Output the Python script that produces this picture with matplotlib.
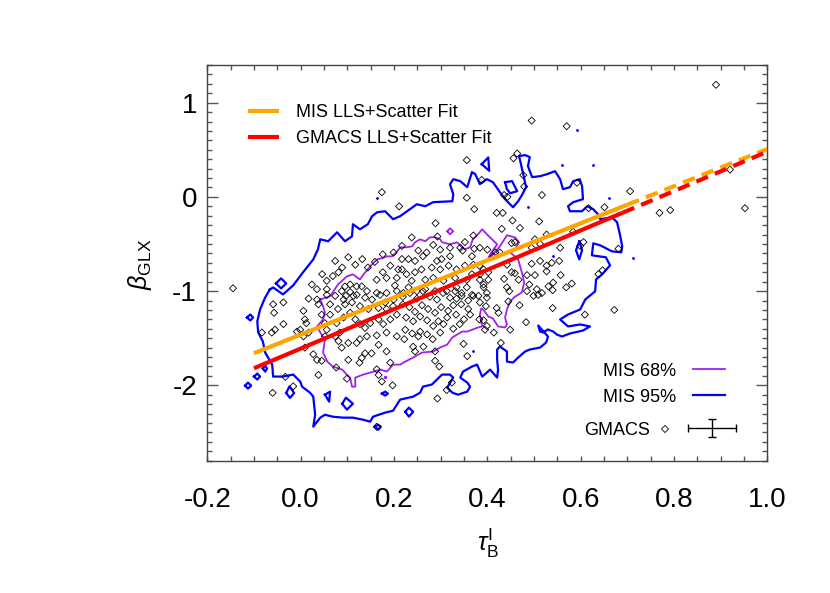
import matplotlib
matplotlib.use("Agg")
import matplotlib.pyplot as plt
import numpy as np
from matplotlib.ticker import MultipleLocator

plt.rcParams["font.family"] = ["Liberation Sans", "DejaVu Sans"]
plt.rcParams["mathtext.fontset"] = "custom"
plt.rcParams["mathtext.rm"] = "Liberation Sans"
plt.rcParams["mathtext.it"] = "Liberation Sans:italic"
plt.rcParams["axes.unicode_minus"] = False

# ---- fits (tau_B^I vs beta_GLX) ----
mis_slope, mis_icpt = 1.97, -1.462
gmacs_slope, gmacs_icpt = 2.09, -1.61
mis_solid = [-0.1, 0.70]
gmacs_solid = [-0.1, 0.69]
fit_end = 1.0

# ---- MIS 95% contour (main loop) ----
mis95_x = [-0.066, -0.059, -0.038, -0.016, 0.005, 0.027, 0.037, 0.042, 0.059, 0.078,
           0.095, 0.110, 0.112, 0.127, 0.144, 0.153, 0.164, 0.181, 0.198, 0.213,
           0.249, 0.267, 0.284, 0.325, 0.327, 0.320, 0.327, 0.342, 0.357, 0.367,
           0.374, 0.384, 0.399, 0.412, 0.427, 0.438, 0.455, 0.466, 0.474, 0.483,
           0.477, 0.472, 0.468, 0.481, 0.491, 0.487, 0.496, 0.513, 0.528, 0.545,
           0.556, 0.562, 0.577, 0.584, 0.598, 0.603, 0.605, 0.584, 0.573, 0.577,
           0.603, 0.614, 0.627, 0.637, 0.642, 0.667, 0.678, 0.684, 0.689, 0.687,
           0.667, 0.642, 0.627, 0.624, 0.654, 0.663, 0.646, 0.633, 0.631, 0.610,
           0.599, 0.573, 0.556, 0.573, 0.599, 0.620, 0.605, 0.577, 0.560, 0.549,
           0.541, 0.530, 0.519, 0.513, 0.509, 0.530, 0.526, 0.513, 0.491, 0.481,
           0.466, 0.455, 0.442, 0.442, 0.427, 0.421, 0.421, 0.423, 0.421, 0.406,
           0.389, 0.378, 0.367, 0.348, 0.342, 0.357, 0.363, 0.357, 0.337, 0.325,
           0.314, 0.327, 0.320, 0.303, 0.292, 0.281, 0.262, 0.256, 0.241, 0.213,
           0.198, 0.181, 0.155, 0.149, 0.134, 0.112, 0.091, 0.069, 0.052, 0.042,
           0.027, 0.031, 0.027, 0.020, 0.003, -0.001, -0.016, -0.038, -0.059, -0.061,
           -0.076, -0.081, -0.091, -0.093, -0.087, -0.076]
mis95_y = [-0.982, -0.961, -1.035, -0.939, -0.801, -0.663, -0.556, -0.450, -0.471, -0.376,
           -0.471, -0.418, -0.290, -0.344, -0.290, -0.205, -0.163, -0.152, -0.237, -0.205,
           -0.078, -0.099, -0.056, -0.046, 0.029, 0.135, 0.188, 0.167, 0.103, 0.263,
           0.242, 0.135, 0.188, 0.156, 0.050, -0.024, -0.110, -0.046, 0.018, 0.103,
           0.241, 0.348, 0.433, 0.444, 0.422, 0.327, 0.210, 0.220, 0.241, 0.273,
           0.188, 0.082, 0.103, 0.167, 0.188, 0.114, -0.024, -0.056, -0.099, -0.152,
           -0.152, -0.099, -0.131, -0.184, -0.237, -0.216, -0.269, -0.397, -0.524, -0.588,
           -0.578, -0.514, -0.493, -0.620, -0.641, -0.727, -0.822, -0.876, -1.003, -1.088,
           -1.195, -1.248, -1.301, -1.375, -1.354, -1.375, -1.418, -1.450, -1.482, -1.461,
           -1.429, -1.407, -1.439, -1.429, -1.365, -1.482, -1.546, -1.599, -1.620, -1.641,
           -1.705, -1.758, -1.748, -1.641, -1.588, -1.620, -1.726, -1.833, -1.918, -1.833,
           -1.907, -1.780, -1.801, -1.854, -1.918, -1.971, -2.014, -2.067, -2.099, -2.078,
           -2.024, -1.918, -1.886, -1.886, -1.939, -1.992, -2.014, -2.078, -2.120, -2.152,
           -2.269, -2.290, -2.333, -2.386, -2.365, -2.343, -2.343, -2.333, -2.312, -2.343,
           -2.439, -2.312, -2.120, -2.078, -2.014, -1.960, -1.886, -1.907, -1.907, -1.780,
           -1.652, -1.535, -1.439, -1.322, -1.195, -1.067]

# ---- MIS 95% small islands ----
mis95_islands = [
    [(-0.053, -0.918), (-0.042, -0.865), (-0.031, -0.918), (-0.042, -0.971)],
    [(-0.115, -1.280), (-0.108, -1.248), (-0.102, -1.280), (-0.108, -1.312)],
    [(-0.119, -2.003), (-0.113, -1.971), (-0.106, -2.003), (-0.113, -2.035)],
    [(-0.100, -1.907), (-0.093, -1.875), (-0.087, -1.907), (-0.093, -1.939)],
    [(-0.081, -1.822), (-0.076, -1.790), (-0.072, -1.822), (-0.076, -1.854)],
    [(-0.031, -2.081), (-0.024, -2.011), (-0.014, -2.081), (-0.023, -2.134)],
    [(0.052, -2.099), (0.063, -2.067), (0.061, -2.173)],
    [(0.089, -2.195), (0.097, -2.131), (0.112, -2.195), (0.099, -2.258)],
    [(0.174, -2.088), (0.181, -2.067), (0.187, -2.088), (0.181, -2.109)],
    [(0.224, -2.280), (0.232, -2.237), (0.241, -2.280), (0.232, -2.333)],
    [(0.159, -2.439), (0.166, -2.418), (0.172, -2.439), (0.166, -2.471)],
    [(0.388, 0.348), (0.402, 0.419), (0.404, 0.277)],
    [(0.438, 0.156), (0.453, 0.167), (0.464, 0.061), (0.449, 0.039), (0.442, 0.082)],
    [(0.597, -0.471), (0.603, -0.567), (0.597, -0.663), (0.590, -0.567)],
]
mis95_dots_x = [0.164, 0.592, 0.560, 0.627, 0.661, 0.713, 0.487, 0.370, 0.541]
mis95_dots_y = [-0.014, 0.709, 0.337, 0.337, -0.017, -0.645, -0.110, -1.638, -0.628]

# ---- MIS 68% contour ----
mis68_x = [0.042, 0.063, 0.080, 0.099, 0.112, 0.127, 0.138, 0.153, 0.164, 0.174,
           0.185, 0.196, 0.207, 0.213, 0.228, 0.239, 0.245, 0.256, 0.267, 0.277,
           0.288, 0.299, 0.303, 0.320, 0.335, 0.346, 0.352, 0.363, 0.369, 0.380,
           0.389, 0.399, 0.410, 0.421, 0.406, 0.399, 0.412, 0.427, 0.442, 0.459,
           0.468, 0.459, 0.449, 0.466, 0.474, 0.479, 0.474, 0.457, 0.449, 0.442,
           0.438, 0.442, 0.438, 0.423, 0.412, 0.402, 0.391, 0.387, 0.384, 0.389,
           0.380, 0.357, 0.346, 0.325, 0.314, 0.299, 0.284, 0.260, 0.241, 0.224,
           0.213, 0.198, 0.185, 0.170, 0.149, 0.134, 0.117, 0.117, 0.110, 0.106,
           0.099, 0.089, 0.069, 0.057, 0.048, 0.052, 0.042, 0.035, 0.048, 0.052,
           0.048]
mis68_y = [-1.088, -1.056, -0.929, -0.844, -0.822, -0.876, -0.801, -0.716, -0.663, -0.652,
           -0.631, -0.631, -0.578, -0.535, -0.535, -0.524, -0.482, -0.450, -0.471, -0.429,
           -0.429, -0.450, -0.482, -0.503, -0.482, -0.535, -0.556, -0.535, -0.450, -0.397,
           -0.344, -0.397, -0.450, -0.503, -0.610, -0.684, -0.610, -0.524, -0.407, -0.429,
           -0.482, -0.556, -0.588, -0.663, -0.801, -0.907, -1.014, -1.067, -1.110, -1.195,
           -1.280, -1.354, -1.386, -1.375, -1.290, -1.269, -1.195, -1.184, -1.248, -1.375,
           -1.386, -1.429, -1.429, -1.492, -1.567, -1.599, -1.641, -1.652, -1.705, -1.748,
           -1.780, -1.780, -1.854, -1.833, -1.865, -1.886, -1.918, -2.014, -2.014, -1.918,
           -1.886, -1.833, -1.801, -1.748, -1.652, -1.514, -1.439, -1.375, -1.301, -1.226,
           -1.163]
mis68_islands = [
    [(0.314, -0.365), (0.320, -0.333), (0.327, -0.365), (0.320, -0.397)],
]
mis68_dots_x = [0.181]
mis68_dots_y = [-1.907]

# ---- GMACS clusters ----
gmacs_outer = [
    (-0.145, -0.97), (0.89, 1.19), (0.952, -0.12), (0.92, 0.29), (0.706, 0.06), (0.769, -0.17),
    (0.792, -0.14), (0.672, -1.20), (0.609, -1.25), (0.495, 0.81), (0.57, 0.75), (0.464, 0.46),
    (0.456, 0.41), (0.388, 0.18), (0.477, 0.23), (0.479, 0.11), (0.436, 0.02), (0.443, 0.0),
    (0.517, 0.02), (0.592, 0.15), (0.617, -0.12), (0.651, -0.11), (0.42, -0.17), (0.433, -0.17),
    (0.454, -0.25), (0.511, -0.26), (0.431, -0.34), (0.47, -0.33), (0.452, -0.49), (0.459, -0.48),
    (0.513, -0.50), (0.556, -0.54), (0.417, -0.59), (0.495, -0.54), (0.356, 0.39), (0.174, 0.05),
    (0.211, -0.10), (0.289, -0.28), (0.356, -0.01), (0.372, -0.13), (0.238, -0.43), (0.293, -0.42),
    (0.37, -0.41), (0.176, -0.61), (0.199, -0.59), (0.217, -0.52), (0.252, -0.57), (0.284, -0.51),
    (0.299, -0.56), (0.352, -0.48), (0.372, -0.55), (0.502, -0.45), (0.527, -0.40),
]
gmacs_right = [
    (0.584, -0.37), (0.606, -0.48), (0.599, -0.52), (0.681, -0.55), (0.554, -0.68), (0.538, -0.70),
    (0.527, -0.73), (0.647, -0.78), (0.638, -0.82), (0.557, -0.83), (0.541, -0.91), (0.581, -0.92),
    (0.569, -0.96), (0.54, -0.99), (0.517, -1.02), (0.54, -1.18), (0.49, -0.93), (0.485, -0.83),
    (0.502, -0.83), (0.495, -0.71), (0.513, -0.68), (0.436, -0.87), (0.459, -0.81), (0.452, -0.80),
    (0.447, -1.0), (0.445, -1.11), (0.469, -1.15), (0.499, -1.05), (0.509, -1.04), (0.483, -1.33),
    (0.449, -1.41), (0.429, -1.55), (0.42, -1.18), (0.414, -1.44), (0.399, -1.37), (0.395, -1.41),
    (0.392, -1.31), (0.424, -1.23), (0.399, -1.02), (0.399, -1.07), (0.392, -0.77), (0.402, -0.80),
    (0.384, -0.88), (0.397, -1.16),
]
gmacs_lower = [
    (0.384, -1.12), (0.383, -1.30), (0.37, -1.05), (0.344, -1.14), (0.333, -1.25), (0.35, -1.30),
    (0.306, -1.35), (0.295, -1.32), (0.327, -1.40), (0.349, -1.56), (0.283, -1.51), (0.263, -1.59),
    (0.241, -1.59), (0.245, -1.64), (0.222, -1.51), (0.252, -1.48), (0.288, -1.64), (0.288, -1.74),
    (0.297, -1.80), (0.357, -1.69), (0.293, -2.14), (0.334, -1.08), (0.345, -1.02),
    (-0.059, -1.14), (-0.037, -1.12), (-0.057, -1.23), (-0.037, -1.35), (-0.083, -1.44),
    (-0.062, -1.44), (-0.055, -1.41), (0.006, -1.21), (0.017, -1.08), (0.038, -1.14), (0.035, -1.09),
    (0.045, -1.25), (0.063, -1.25), (0.009, -1.30), (0.012, -1.34), (-0.008, -1.43), (-0.001, -1.41),
    (0.006, -1.48), (0.017, -1.44), (0.009, -1.60), (0.027, -1.67), (0.035, -1.73), (0.045, -1.74),
    (0.038, -1.89), (0.076, -1.81), (0.099, -1.93), (0.102, -1.73), (0.126, -1.76), (0.131, -1.71),
    (0.138, -1.66), (0.152, -1.66), (0.167, -1.57), (0.184, -1.64), (0.192, -1.76), (0.163, -1.83),
    (0.167, -1.89), (0.197, -2.0), (-0.06, -2.08), (-0.033, -1.91), (0.163, -2.44), (-0.016, -2.01),
    (0.313, -2.05), (0.324, -1.97), (0.174, -1.96),
]
gmacs_core = [
    (0.081, -1.53), (0.102, -1.55), (0.088, -1.60), (0.12, -1.55), (0.127, -1.51), (0.142, -1.48),
    (0.163, -1.47), (0.184, -1.44), (0.206, -1.48), (0.052, -1.48), (0.074, -1.48), (0.056, -1.41),
    (0.084, -1.44), (0.052, -1.34), (0.077, -1.34), (0.092, -1.28), (0.106, -1.23), (0.117, -1.30),
    (0.127, -1.35), (0.138, -1.39), (0.149, -1.34), (0.167, -1.30), (0.177, -1.35), (0.192, -1.30),
    (0.206, -1.25), (0.184, -1.19), (0.167, -1.18), (0.145, -1.19), (0.127, -1.16), (0.11, -1.12),
    (0.092, -1.09), (0.074, -1.05), (0.056, -1.04), (0.088, -1.0), (0.12, -1.04), (0.138, -1.07),
    (0.163, -1.02), (0.184, -1.02), (0.199, -1.09),
    (0.081, -0.80), (0.056, -0.89), (0.056, -0.98), (0.095, -0.95), (0.106, -0.93), (0.12, -0.95),
    (0.131, -0.95), (0.106, -1.01), (0.113, -1.05), (0.163, -0.88), (0.176, -0.80), (0.184, -0.86),
    (0.206, -0.86), (0.202, -0.94), (0.17, -1.04), (0.206, -1.0),
    (0.217, -0.66), (0.231, -0.66), (0.245, -0.68), (0.262, -0.63), (0.27, -0.59), (0.32, -0.54),
    (0.342, -0.54), (0.347, -0.57), (0.367, -0.63), (0.384, -0.54), (0.40, -0.56), (0.413, -0.63),
    (0.427, -0.59), (0.527, -0.79), (0.442, -0.72), (0.467, -0.88), (0.402, -0.88), (0.392, -0.96),
    (0.442, -0.96), (0.485, -1.0), (0.506, -0.98), (0.531, -0.95), (0.32, -0.63), (0.302, -0.66),
    (0.292, -0.68), (0.281, -0.75), (0.299, -0.77), (0.317, -0.73), (0.334, -0.77), (0.352, -0.73),
    (0.37, -0.72), (0.383, -0.73), (0.245, -0.80), (0.259, -0.77), (0.227, -0.82), (0.217, -0.77),
    (0.238, -0.89), (0.267, -0.88), (0.284, -0.86), (0.306, -0.89), (0.331, -0.86), (0.356, -0.88),
    (0.367, -0.82), (0.384, -0.82), (0.392, -0.93), (0.356, -0.96), (0.334, -0.96), (0.313, -1.0),
    (0.288, -1.0), (0.267, -0.98), (0.249, -1.0), (0.231, -0.96), (0.22, -1.02), (0.345, -1.05),
    (0.367, -1.04), (0.381, -1.05),
]
gmacs_dense = [
    (0.219, -1.06), (0.234, -1.02), (0.249, -1.08), (0.262, -1.0), (0.277, -1.06), (0.292, -1.09),
    (0.305, -1.02), (0.32, -1.07), (0.331, -1.0), (0.359, -1.10), (0.219, -1.14), (0.233, -1.17),
    (0.245, -1.22), (0.26, -1.15), (0.273, -1.19), (0.288, -1.23), (0.301, -1.17), (0.316, -1.21),
    (0.327, -1.15), (0.359, -1.19), (0.226, -1.28), (0.241, -1.32), (0.256, -1.27), (0.271, -1.31),
    (0.284, -1.37), (0.314, -1.28), (0.224, -1.41), (0.239, -1.45), (0.256, -1.43), (0.271, -1.46),
    (0.299, -1.44), (0.363, -1.25), (0.341, -1.35),
    (0.074, -0.68), (0.089, -0.75), (0.102, -0.64), (0.117, -0.72), (0.132, -0.66), (0.144, -0.75),
    (0.159, -0.69), (0.192, -0.73), (0.209, -0.77), (0.069, -0.84), (0.142, -1.0), (0.153, -1.09),
    (0.181, -1.12), (0.198, -1.16), (0.095, -1.14), (0.08, -1.19), (0.063, -1.14), (0.035, -0.98),
    (0.024, -0.93), (0.046, -0.82), (0.097, -1.05),
]

# representative GMACS error bar (legend)
err_x, err_y = 0.882, -2.457
err_dx, err_dy = 0.051, 0.096

fig = plt.figure(figsize=(8.3, 5.93), dpi=100)
ax = fig.add_axes([0.2498, 0.2231, 0.6747, 0.6673])

# contours
blue = "#0000FF"
purple = "#A020F0"
ax.plot(mis95_x + mis95_x[:1], mis95_y + mis95_y[:1], color=blue, lw=1.6, zorder=2)
for isl in mis95_islands:
    xs, ys = zip(*(isl + isl[:1]))
    ax.plot(xs, ys, color=blue, lw=1.6, zorder=2)
ax.plot(mis95_dots_x, mis95_dots_y, ".", color=blue, ms=2, zorder=2)
ax.plot(mis68_x + mis68_x[:1], mis68_y + mis68_y[:1], color=purple, lw=1.3, zorder=2)
for isl in mis68_islands:
    xs, ys = zip(*(isl + isl[:1]))
    ax.plot(xs, ys, color=purple, lw=1.3, zorder=2)
ax.plot(mis68_dots_x, mis68_dots_y, ".", color=purple, ms=3, zorder=2)

# GMACS points
pts = np.array(gmacs_outer + gmacs_right + gmacs_lower + gmacs_core + gmacs_dense)
ax.scatter(pts[:, 0], pts[:, 1], marker="D", s=13, facecolors="none",
           edgecolors="black", linewidths=0.6, zorder=3)

# fit lines
for slope, icpt, solid, col in [(mis_slope, mis_icpt, mis_solid, "#FFA500"),
                                (gmacs_slope, gmacs_icpt, gmacs_solid, "#FF0000")]:
    xs = np.array(solid)
    ax.plot(xs, icpt + slope * xs, color=col, lw=3, solid_capstyle="butt", zorder=4)
    xd = np.array([solid[1], fit_end])
    ax.plot(xd, icpt + slope * xd, color=col, lw=3, dashes=(3, 1.8),
            dash_capstyle="butt", zorder=4)

# upper-left legend
for fy, col, lab in [(0.8845, "#FFA500", "MIS LLS+Scatter Fit"),
                     (0.8188, "#FF0000", "GMACS LLS+Scatter Fit")]:
    ax.plot([0.0727, 0.128], [fy, fy], color=col, lw=3, transform=ax.transAxes,
            solid_capstyle="butt")
    ax.text(0.1584, fy - 0.016, lab, fontsize=13, ha="left", va="baseline",
            transform=ax.transAxes)

# lower-right legend
for fy, col, lab, lw in [(0.2317, purple, "MIS 68%", 1.3), (0.166, blue, "MIS 95%", 1.6)]:
    ax.text(0.838, fy - 0.017, lab, fontsize=13, ha="right", va="baseline",
            transform=ax.transAxes)
    ax.plot([0.8673, 0.9245], [fy, fy], color=col, lw=lw, transform=ax.transAxes)
ax.text(0.791, 0.0647, "GMACS", fontsize=13, ha="right", va="baseline",
        transform=ax.transAxes)
ax.scatter([0.8173], [0.0801], marker="D", s=13, facecolors="none",
           edgecolors="black", linewidths=0.6, transform=ax.transAxes)
ax.errorbar([err_x], [err_y], xerr=[err_dx], yerr=[err_dy], fmt="none",
            ecolor="black", elinewidth=1, capsize=2.6, capthick=1)

# axes styling
ax.set_xlim(-0.2, 1.0)
ax.set_ylim(-2.8, 1.4)
ax.xaxis.set_major_locator(MultipleLocator(0.2))
ax.xaxis.set_minor_locator(MultipleLocator(0.05))
ax.yaxis.set_major_locator(MultipleLocator(1))
ax.yaxis.set_minor_locator(MultipleLocator(0.1))
ax.xaxis.set_major_formatter(plt.FuncFormatter(lambda v, p: f"{v:.1f}"))
ax.yaxis.set_major_formatter(plt.FuncFormatter(lambda v, p: f"{v:.0f}"))
ax.tick_params(which="both", direction="in", top=True, right=True, color="#555555", width=1)
ax.tick_params(axis="x", which="both", length=3.6, pad=19, labelsize=20)
ax.tick_params(axis="y", which="major", length=8, pad=7.5, labelsize=20)
ax.tick_params(axis="y", which="minor", length=3.6)
for sp in ax.spines.values():
    sp.set_color("#444444")
    sp.set_linewidth(1)

fig.text(140 / 830, 1 - 264 / 593, r"$\beta_{\rm GLX}$", fontsize=18, rotation=90,
         ha="center", va="center")
fig.text(488 / 830, 1 - 543 / 593, r"$\tau_{\rm B}^{\rm I}$", fontsize=18,
         ha="center", va="center")

fig.savefig("out.png", dpi=100)
